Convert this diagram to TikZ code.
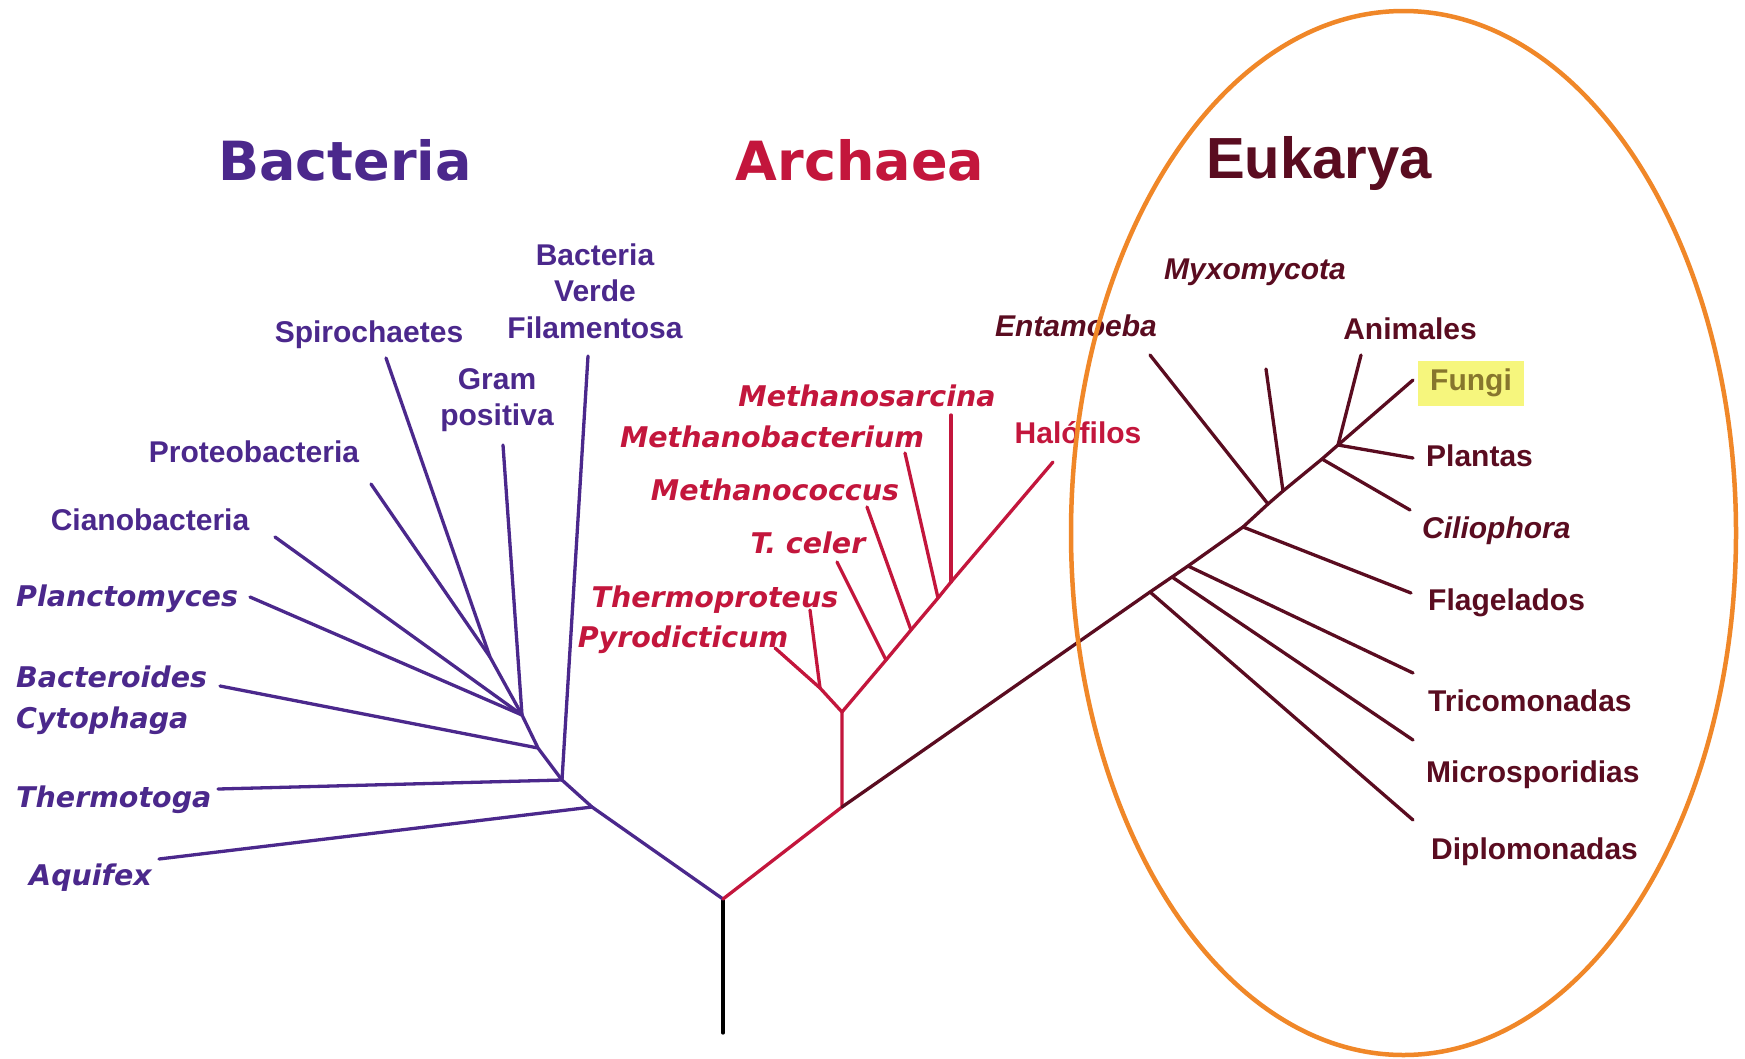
\documentclass[tikz,border=0pt]{standalone}
\usepackage{fontspec}
\newfontfamily\dvs{DejaVu Sans}
\newfontfamily\lib{Liberation Sans}
\definecolor{bac}{RGB}{75,40,140}
\definecolor{arc}{RGB}{195,22,60}
\definecolor{euk}{RGB}{90,12,32}
\definecolor{ell}{RGB}{240,135,40}
\definecolor{hl}{RGB}{246,246,125}
\definecolor{fun}{RGB}{135,118,45}
\tikzset{
  branch/.style={line width=3.3pt, line cap=round, line join=round},
  ttl/.style={inner sep=0pt, anchor=base},
  lab/.style={inner sep=0pt, font=\lib\bfseries\fontsize{30}{36.5}\selectfont},
  ilab/.style={inner sep=0pt, font=\dvs\bfseries\itshape\fontsize{28.5}{34}\selectfont},
  elab/.style={inner sep=0pt, font=\lib\bfseries\itshape\fontsize{30}{36}\selectfont},
}
\begin{document}
\begin{tikzpicture}[x=1pt,y=-1pt]
\useasboundingbox[fill=white] (0,0) rectangle (1745,1058);

% titles
\node[ttl, bac, font=\dvs\bfseries\fontsize{54}{60}\selectfont] (tbac) at (345,180) {Bacteria};
\node[ttl, arc, font=\dvs\bfseries\fontsize{54}{60}\selectfont] (tarc) at (860,180) {Archaea};
\node[ttl, euk, font=\lib\bfseries\fontsize{58}{64}\selectfont] (teuk) at (1319,178) {Eukarya};

% ---- coordinates: root
\coordinate (rb) at (723,1033);
\coordinate (r) at (723,899);
% bacteria
\coordinate (j1) at (592,807);
\coordinate (j2) at (562,780);
\coordinate (j3) at (538,748);
\coordinate (j4) at (522,715);
\coordinate (jp) at (490,657);
\coordinate (aqu) at (159,859);
\coordinate (the) at (218,789);
\coordinate (fil) at (588,356);
\coordinate (bcy) at (220,686);
\coordinate (pla) at (250,597);
\coordinate (cia) at (275,537);
\coordinate (pro) at (371,484);
\coordinate (spi) at (386,358);
\coordinate (gra) at (503,445);
% archaea
\coordinate (a1) at (842,807);
\coordinate (a2) at (842,712);
\coordinate (ap) at (820,688);
\coordinate (pyr) at (775,648);
\coordinate (thp) at (810,610);
\coordinate (tc) at (886,660);
\coordinate (tce) at (837,562);
\coordinate (mc) at (911,630);
\coordinate (mce) at (867,507);
\coordinate (mb) at (938,598);
\coordinate (mbe) at (905,453);
\coordinate (ms) at (951,582);
\coordinate (mse) at (951,415);
\coordinate (hal) at (1053,462);
% eukarya
\coordinate (ed) at (1150,592);
\coordinate (em) at (1172,577);
\coordinate (et) at (1188,566);
\coordinate (ef) at (1243,527);
\coordinate (ee) at (1268,504);
\coordinate (ex) at (1283,491);
\coordinate (ec) at (1322,459);
\coordinate (ecr) at (1338,445);
\coordinate (diplo) at (1413,820);
\coordinate (micro) at (1413,740);
\coordinate (trico) at (1413,673);
\coordinate (flag) at (1411,593);
\coordinate (enta) at (1150,355);
\coordinate (myxo) at (1266,369);
\coordinate (cilio) at (1410,510);
\coordinate (plant) at (1413,458);
\coordinate (fungi) at (1413,380);
\coordinate (anim) at (1361,355);

% ---- branches
\draw[branch, black] (rb) -- (r);
\draw[branch, bac] (r) -- (j1) -- (j2) -- (j3) -- (j4) -- (jp) -- (spi);
\draw[branch, bac] (jp) -- (pro);
\draw[branch, bac] (j4) -- (gra);
\draw[branch, bac] (j4) -- (cia);
\draw[branch, bac] (j4) -- (pla);
\draw[branch, bac] (j3) -- (bcy);
\draw[branch, bac] (j2) -- (the);
\draw[branch, bac] (j2) -- (fil);
\draw[branch, bac] (j1) -- (aqu);

\draw[branch, arc] (r) -- (a1) -- (a2) -- (ap) -- (pyr);
\draw[branch, arc] (ap) -- (thp);
\draw[branch, arc] (a2) -- (tc) -- (mc) -- (mb) -- (ms) -- (hal);
\draw[branch, arc] (tc) -- (tce);
\draw[branch, arc] (mc) -- (mce);
\draw[branch, arc] (mb) -- (mbe);
\draw[branch, arc] (ms) -- (mse);

\draw[branch, euk] (a1) -- (ed) -- (em) -- (et) -- (ef) -- (ee) -- (ex) -- (ec) -- (ecr) -- (fungi);
\draw[branch, euk] (ed) -- (diplo);
\draw[branch, euk] (em) -- (micro);
\draw[branch, euk] (et) -- (trico);
\draw[branch, euk] (ef) -- (flag);
\draw[branch, euk] (ee) -- (enta);
\draw[branch, euk] (ex) -- (myxo);
\draw[branch, euk] (ec) -- (cilio);
\draw[branch, euk] (ecr) -- (plant);
\draw[branch, euk] (ecr) -- (anim);

% ---- bacteria labels
\node[lab, bac, align=center] (lfil) at (595,291) {Bacteria\\Verde\\Filamentosa};
\node[lab, bac, align=center] (lgra) at (497,400) {Gram\\positiva};
\node[lab, bac, anchor=base] (lspi) at (369,342) {Spirochaetes};
\node[lab, bac, anchor=base] (lpro) at (254,462) {Proteobacteria};
\node[lab, bac, anchor=base] (lcia) at (150,530) {Cianobacteria};
\node[ilab, bac, anchor=base west] (lpla) at (16,606) {Planctomyces};
\node[ilab, bac, anchor=base west] (lbac) at (16,687) {Bacteroides};
\node[ilab, bac, anchor=base west] (lcyt) at (16,728) {Cytophaga};
\node[ilab, bac, anchor=base west] (lthe) at (16,807) {Thermotoga};
\node[ilab, bac, anchor=base west] (laqu) at (29,885) {Aquifex};

% ---- archaea labels
\node[ilab, arc, anchor=base] (lmse) at (867,406) {Methanosarcina};
\node[ilab, arc, anchor=base] (lmbe) at (772,447) {Methanobacterium};
\node[ilab, arc, anchor=base] (lmce) at (775,500) {Methanococcus};
\node[ilab, arc, anchor=base] (ltce) at (808,553) {T. celer};
\node[ilab, arc, anchor=base] (lthp) at (715,607) {Thermoproteus};
\node[ilab, arc, anchor=base] (lpyr) at (683,647) {Pyrodicticum};
\node[lab, arc, anchor=base] (lhal) at (1078,443) {Halófilos};

% ---- eukarya labels
\node[elab, euk, anchor=base] (lmyx) at (1255,279) {Myxomycota};
\node[elab, euk, anchor=base] (lent) at (1076,336) {Entamoeba};
\node[lab, euk, anchor=base] (lani) at (1410,339) {Animales};
\node[lab, fun, fill=hl, minimum width=106pt, minimum height=45pt] (lfun) at (1471,383) {Fungi};
\node[lab, euk, anchor=base west] (lpla2) at (1426,466) {Plantas};
\node[elab, euk, anchor=base west] (lcil) at (1422,538) {Ciliophora};
\node[lab, euk, anchor=base west] (lfla) at (1428,610) {Flagelados};
\node[lab, euk, anchor=base west] (ltri) at (1428,711) {Tricomonadas};
\node[lab, euk, anchor=base west] (lmic) at (1426,782) {Microsporidias};
\node[lab, euk, anchor=base west] (ldip) at (1431,859) {Diplomonadas};

% ---- highlight ellipse
\draw[ell, line width=4.5pt] (1403.5,533) ellipse [x radius=332.5, y radius=522];
\end{tikzpicture}
\end{document}
